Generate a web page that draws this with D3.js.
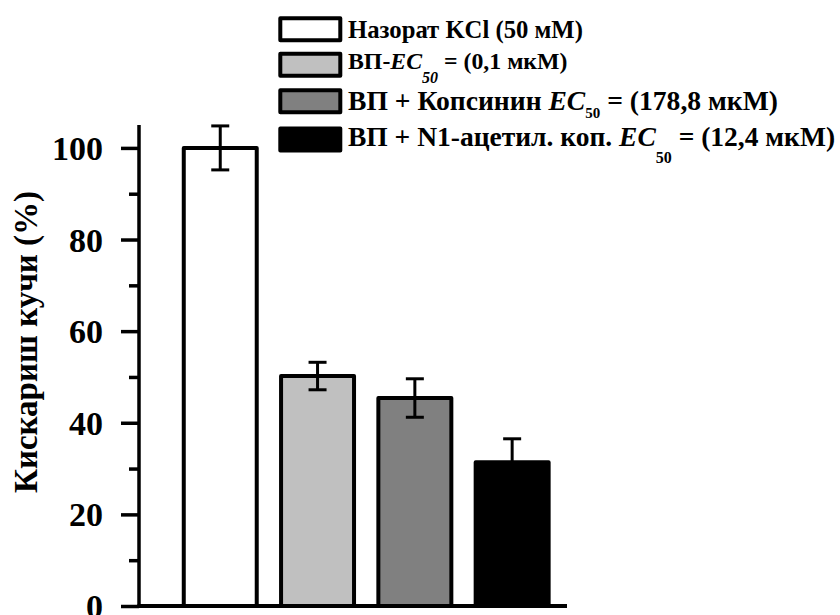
<!DOCTYPE html>
<html>
<head>
<meta charset="utf-8">
<script src="https://cdn.jsdelivr.net/npm/d3@7"></script>
</head>
<body style="margin:0;padding:0;background:#fff">
<svg id="chart" width="840" height="615" style="display:block"></svg>
<script>
// ---- data ----
const categories = ["Назорат KCl", "ВП", "ВП + Копсинин", "ВП + N1-ацетил. коп."];
const values = [100, 50.2, 45.4, 31.4];
const errors = [4.8, 3.0, 4.2, 5.1];
const fills = ["#ffffff", "#c0c0c0", "#808080", "#000000"];
const yTicks = [0, 20, 40, 60, 80, 100];
const yMinorTicks = [10, 30, 50, 70, 90];
const yLabel = "Кискариш кучи (%)";
// legend: segments [text, italic, subscript]
const legendItems = [
  [["Назорат KCl (50 мМ)", false, false]],
  [["ВП-", false, false], ["EC", true, false], ["50", true, true], [" = (0,1 мкМ)", false, false]],
  [["ВП + Копсинин ", false, false], ["EC", true, false], ["50", false, true], [" =  (178,8 мкМ)", false, false]],
  [["ВП + N1-ацетил. коп. ", false, false], ["EC", true, false], ["50", false, true], [" = (12,4 мкМ)", false, false]]
];

// ---- layout (styles, not data) ----
const FONT = "'Liberation Serif'";
const legendLayout = [
  {cy: 29.2, base: 38.3, size: 24.7, sub: 16, subDy: 14},
  {cy: 64.7, base: 68.5, size: 23.8, sub: 16, subDy: 14},
  {cy: 101.3, base: 110, size: 27.6, sub: 15, subDy: 8},
  {cy: 139.5, base: 145.5, size: 27.5, sub: 16, subDy: 17}
];

const svg = d3.select("#chart");

const y = d3.scaleLinear().domain([0, 105]).range([606, 125]);
const x = d3.scaleBand().domain(categories).range([171.6, 560.8]).paddingInner(0.25).paddingOuter(0.125);

// bars
svg.append("g").selectAll("rect").data(categories).join("rect")
  .attr("x", d => x(d))
  .attr("width", x.bandwidth())
  .attr("y", (d, i) => y(values[i]))
  .attr("height", (d, i) => y(0) - y(values[i]))
  .attr("fill", (d, i) => fills[i])
  .attr("stroke", "#000")
  .attr("stroke-width", 4)
  .attr("stroke-linejoin", "round");

// error bars
const eg = svg.append("g").attr("stroke", "#000").attr("stroke-width", 3);
categories.forEach((c, i) => {
  const cx = x(c) + x.bandwidth() / 2;
  const top = y(values[i] + errors[i]);
  const bot = y(values[i] - errors[i]);
  eg.append("line").attr("x1", cx).attr("x2", cx).attr("y1", top).attr("y2", bot);
  eg.append("line").attr("x1", cx - 9).attr("x2", cx + 9).attr("y1", top).attr("y2", top);
  eg.append("line").attr("x1", cx - 9).attr("x2", cx + 9).attr("y1", bot).attr("y2", bot);
});

// y axis
const yAxis = d3.axisLeft(y).tickValues(yTicks).tickSize(18).tickPadding(18).tickFormat(d3.format("d"));
const ga = svg.append("g").attr("transform", "translate(139,0)").call(yAxis);
ga.select(".domain").remove();
ga.selectAll(".tick line").attr("stroke-width", 3.5);
ga.selectAll(".tick text").attr("dy", "0.34em")
  .style("font-family", FONT).style("font-weight", "bold").style("font-size", "34px");
const yMinor = d3.axisLeft(y).tickValues(yMinorTicks).tickSize(10).tickFormat("");
const gm = svg.append("g").attr("transform", "translate(139,0)").call(yMinor);
gm.select(".domain").remove();
gm.selectAll(".tick line").attr("stroke-width", 3.5);

svg.append("line").attr("x1", 139).attr("x2", 139).attr("y1", y(105)).attr("y2", y(0) + 2)
  .attr("stroke", "#000").attr("stroke-width", 3.5);
svg.append("line").attr("x1", 137.5).attr("x2", 567).attr("y1", y(0)).attr("y2", y(0))
  .attr("stroke", "#000").attr("stroke-width", 4);

// y label
svg.append("text")
  .attr("transform", "translate(37,342) rotate(-90)")
  .attr("text-anchor", "middle")
  .style("font-family", FONT).style("font-weight", "bold").style("font-size", "33px")
  .text(yLabel);

// legend
const lg = svg.append("g");
legendItems.forEach((segs, i) => {
  const L = legendLayout[i];
  lg.append("rect").attr("x", 280.3).attr("y", L.cy - 11).attr("width", 60).attr("height", 22)
    .attr("fill", fills[i]).attr("stroke", "#000").attr("stroke-width", 4).attr("stroke-linejoin", "round");
  const t = lg.append("text").attr("x", 348).attr("y", L.base)
    .style("font-family", FONT).style("font-weight", "bold").style("font-size", L.size + "px");
  let prevSub = false;
  segs.forEach(s => {
    const ts = t.append("tspan").text(s[0]);
    if (s[1]) ts.style("font-style", "italic");
    if (s[2]) { ts.style("font-size", L.sub + "px").attr("dy", L.subDy); prevSub = true; }
    else if (prevSub) { ts.attr("dy", -L.subDy); prevSub = false; }
  });
});
</script>
</body>
</html>
